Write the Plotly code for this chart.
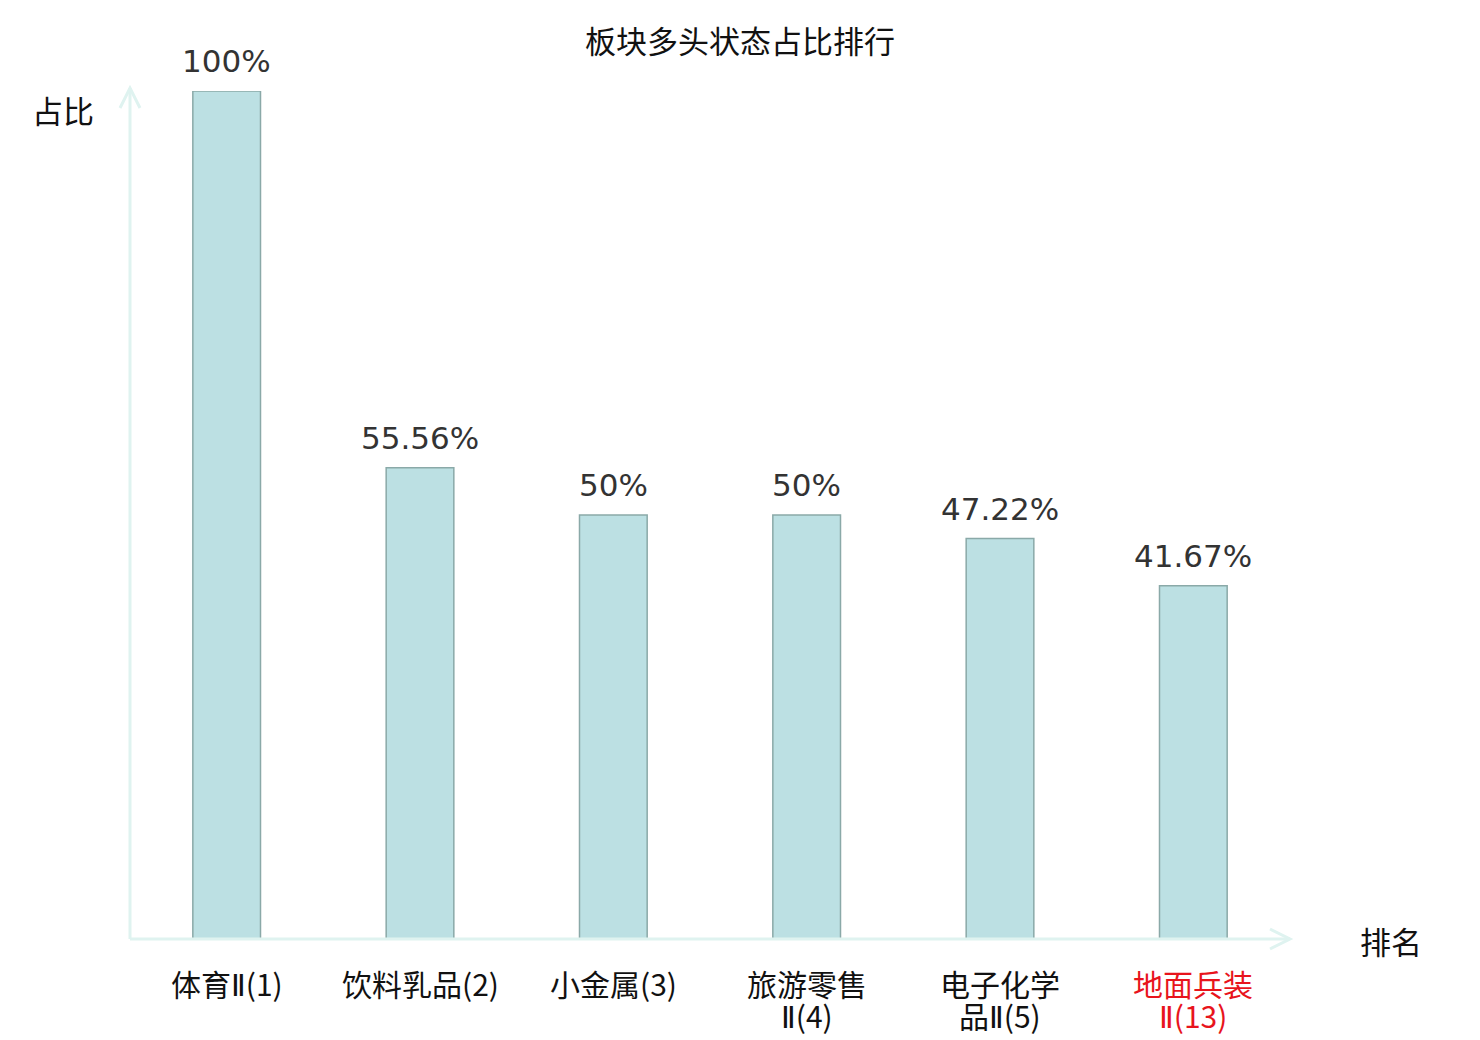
import plotly.graph_objects as go

# sector long-state share ranking
line1 = ['体育Ⅱ(1)', '饮料乳品(2)', '小金属(3)', '旅游零售', '电子化学', '地面兵装']
line2 = ['', '', '', 'Ⅱ(4)', '品Ⅱ(5)', 'Ⅱ(13)']
label_colors = ['#111111', '#111111', '#111111', '#111111', '#111111', '#e8141c']
values = [100, 55.56, 50, 50, 47.22, 41.67]
value_text = ['100%', '55.56%', '50%', '50%', '47.22%', '41.67%']

x = list(range(len(values)))
axis_color = '#dff3f0'
cjk = 'Noto Sans CJK SC'


def narrow_roman(s):
    # the CJK font draws Ⅱ full width; use DejaVu for it so it stays narrow
    return s.replace('Ⅱ', '<span style="font-family:DejaVu Sans">Ⅱ</span>')


fig = go.Figure()
fig.add_trace(go.Bar(
    x=x, y=values, width=0.35,
    marker=dict(color='#bce0e3', line=dict(color='#8aa9a8', width=1.5)),
    hoverinfo='skip'
))

# value labels above bars
for i, v in enumerate(values):
    fig.add_annotation(x=i, y=v, text=value_text[i], showarrow=False,
                       xanchor='center', yanchor='middle', yshift=30,
                       font=dict(family='DejaVu Sans', size=31, color='#333333'))

# category labels (two lines, tight spacing)
for i in x:
    fig.add_annotation(x=i, y=0, text=narrow_roman(line1[i]), showarrow=False,
                       xanchor='center', yanchor='middle', yshift=-44,
                       font=dict(family=cjk, size=30, color=label_colors[i]))
    if line2[i]:
        fig.add_annotation(x=i, y=0, text=narrow_roman(line2[i]), showarrow=False,
                           xanchor='center', yanchor='middle', yshift=-76,
                           font=dict(family=cjk, size=30, color=label_colors[i]))

# axis names
fig.add_annotation(xref='paper', yref='paper', x=-0.058, y=0.978, text='占比',
                   showarrow=False, xanchor='center', yanchor='middle',
                   font=dict(family=cjk, size=31, color='#111111'))
fig.add_annotation(xref='paper', yref='paper', x=1.087, y=-0.002, text='排名',
                   showarrow=False, xanchor='center', yanchor='middle',
                   font=dict(family=cjk, size=31, color='#111111'))

# axis lines with open arrowheads
W, H = 1160, 848
dx, dy = 20 / W, 10 / H
top = 1 + 3 / H
ax_line = dict(color=axis_color, width=3)
shapes = [
    dict(type='line', xref='paper', yref='paper', x0=0, y0=0, x1=1, y1=0, line=ax_line),
    dict(type='path', xref='paper', yref='paper',
         path=f'M {1 - dx} {dy} L 1 0 L {1 - dx} {-dy}', line=ax_line),
    dict(type='line', xref='paper', yref='paper', x0=0, y0=0, x1=0, y1=top, line=ax_line),
    dict(type='path', xref='paper', yref='paper',
         path=f'M {-10 / W} {top - 20 / H} L 0 {top} L {10 / W} {top - 20 / H}',
         line=ax_line),
]

fig.update_layout(
    width=1480, height=1040,
    margin=dict(l=122, r=198, t=83, b=109),
    paper_bgcolor='white', plot_bgcolor='white',
    showlegend=False,
    title=dict(text='板块多头状态占比排行', x=732 / 1480, xref='container', y=1 - 34 / 1040,
               yref='container', xanchor='center', yanchor='middle',
               font=dict(family=cjk, size=31, color='#111111')),
    xaxis=dict(range=[-0.5, 5.5], showticklabels=False, showgrid=False,
               zeroline=False, showline=False, fixedrange=True),
    yaxis=dict(range=[0, 100], showticklabels=False, showgrid=False,
               zeroline=False, showline=False, fixedrange=True),
    shapes=shapes,
)

fig.write_html('out.html')
